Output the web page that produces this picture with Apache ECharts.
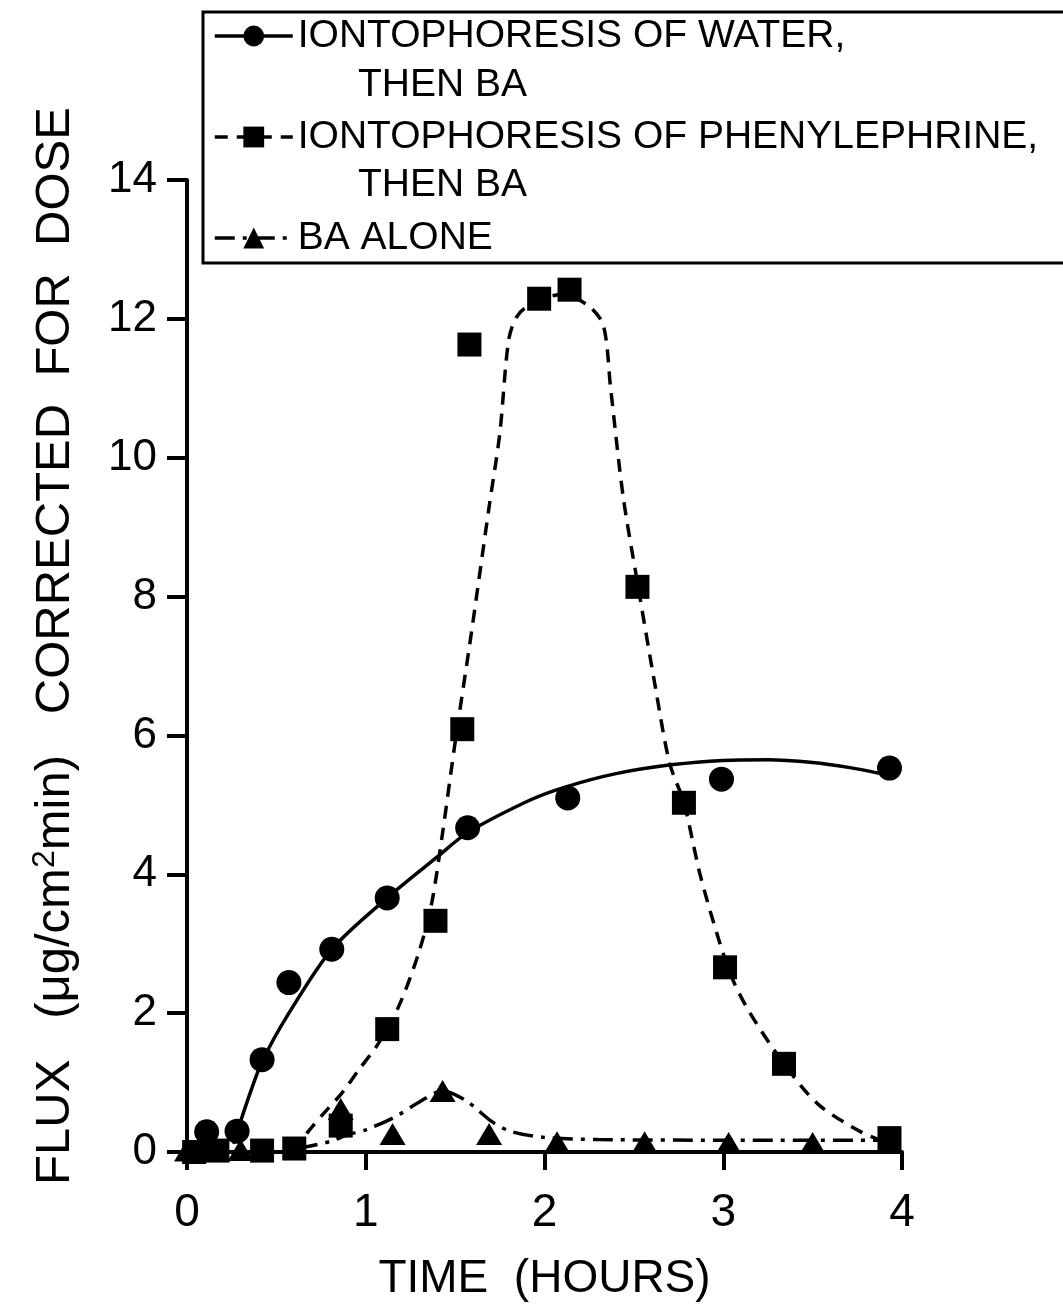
<!DOCTYPE html>
<html>
<head>
<meta charset="utf-8">
<script src="https://cdn.jsdelivr.net/npm/echarts@6/dist/echarts.min.js"></script>
<style>html,body{margin:0;padding:0;background:#fff;}#chart{width:1063px;height:1307px;}</style>
</head>
<body>
<div id="chart"></div>
<script>
// ---- data ----
const xTicks = [0, 1, 2, 3, 4];
const yTicks = [0, 2, 4, 6, 8, 10, 12, 14];

const waterName = 'IONTOPHORESIS OF WATER,';
const phenylName = 'IONTOPHORESIS OF PHENYLEPHRINE,';
const baName = 'BA ALONE';

// measured points [hours, flux]
const waterPoints = [[0.11,0.29],[0.28,0.30],[0.42,1.33],[0.57,2.44],[0.81,2.92],[1.12,3.66],[1.57,4.67],[2.13,5.10],[2.99,5.37],[3.93,5.53]];
const phenylPoints = [[0.04,0.0],[0.17,0.02],[0.42,0.02],[0.60,0.05],[0.86,0.38],[1.12,1.77],[1.39,3.33],[1.54,6.09],[1.58,11.63],[1.97,12.29],[2.14,12.42],[2.52,8.14],[2.78,5.03],[3.01,2.66],[3.34,1.27],[3.93,0.20]];
const baPoints = [[0.0,0.02],[0.17,0.02],[0.30,0.03],[0.86,0.62],[1.15,0.26],[1.43,0.88],[1.69,0.26],[2.07,0.14],[2.56,0.14],[3.03,0.13],[3.50,0.13]];

// hand-drawn fitted curves
const waterFit = [[0.26,0.12],[0.34,0.75],[0.42,1.30],[0.57,2.00],[0.81,2.92],[1.12,3.66],[1.40,4.25],[1.57,4.60],[1.92,5.07],[2.12,5.26],[2.40,5.45],[2.72,5.58],[3.00,5.64],[3.25,5.65],[3.50,5.61],[3.70,5.54],[3.88,5.45]];
const phenylFit = [[0.60,0.0],[0.68,0.30],[0.78,0.60],[0.87,0.86],[0.96,1.18],[1.07,1.56],[1.19,2.13],[1.30,2.90],[1.37,3.60],[1.43,4.60],[1.50,5.90],[1.59,7.46],[1.69,9.29],[1.75,10.35],[1.80,11.70],[1.85,12.05],[1.95,12.25],[2.10,12.35],[2.25,12.18],[2.33,11.90],[2.37,11.00],[2.44,9.44],[2.52,8.20],[2.62,6.70],[2.70,5.60],[2.78,5.03],[2.87,4.00],[2.97,3.10],[3.05,2.50],[3.15,2.00],[3.34,1.27],[3.53,0.69],[3.77,0.29],[3.93,0.12]];
const baFit = [[0.62,0.05],[0.80,0.15],[0.90,0.25],[1.00,0.32],[1.16,0.50],[1.30,0.72],[1.43,0.88],[1.56,0.74],[1.71,0.43],[1.82,0.29],[2.00,0.21],[2.30,0.18],[3.00,0.17],[3.92,0.17]];

const FONT = '"Liberation Sans", Arial, sans-serif';

const chart = echarts.init(document.getElementById('chart'), null, {renderer: 'canvas'});

chart.setOption({
  backgroundColor: '#fff',
  animation: false,
  grid: {left: 187, right: 161, top: 180, bottom: 152, containLabel: false},
  xAxis: {
    type: 'value', min: xTicks[0], max: xTicks[xTicks.length - 1], interval: 1,
    name: 'TIME  (HOURS)', nameLocation: 'middle', nameGap: 104,
    nameTextStyle: {fontSize: 46, fontFamily: FONT, color: '#000'},
    axisLine: {lineStyle: {color: '#000', width: 4}},
    axisTick: {show: true, length: 18, lineStyle: {color: '#000', width: 4}},
    axisLabel: {fontSize: 46, fontFamily: FONT, color: '#000', margin: 38},
    splitLine: {show: false}
  },
  yAxis: {
    type: 'value', min: yTicks[0], max: yTicks[yTicks.length - 1], interval: 2,
    name: '{a|FLUX   (μg/cm}{s|2}{a|min)   CORRECTED  FOR  DOSE}',
    nameLocation: 'middle', nameGap: 106, nameRotate: 90,
    nameTextStyle: {
      color: '#000', fontFamily: FONT, padding: [0, 0, 0, 40],
      rich: {
        a: {fontSize: 49, fontFamily: FONT, color: '#000', lineHeight: 52},
        s: {fontSize: 32, fontFamily: FONT, color: '#000', verticalAlign: 'top', lineHeight: 32}
      }
    },
    axisLine: {show: true, lineStyle: {color: '#000', width: 4}},
    axisTick: {show: true, length: 20, lineStyle: {color: '#000', width: 4}},
    axisLabel: {fontSize: 44, fontFamily: FONT, color: '#000', margin: 30},
    splitLine: {show: false}
  },
  legend: {
    orient: 'vertical', left: 203, top: 12,
    padding: [4, 70, 5, 10], itemGap: 61, itemWidth: 78, itemHeight: 26,
    borderColor: '#000', borderWidth: 3, borderRadius: 0,
    selectedMode: false,
    lineStyle: {width: 3.5},
    textStyle: {fontSize: 39, fontFamily: FONT, color: '#000', lineHeight: 40},
    data: [waterName, phenylName, baName]
  },
  graphic: [
    {type: 'text', x: 358, y: 85, style: {text: 'THEN BA', fontSize: 39, fontFamily: FONT, fill: '#000', verticalAlign: 'middle'}},
    {type: 'text', x: 358, y: 185, style: {text: 'THEN BA', fontSize: 39, fontFamily: FONT, fill: '#000', verticalAlign: 'middle'}}
  ],
  series: [
    {name: waterName, type: 'line', data: waterFit, smooth: 0.3, symbol: 'circle', showSymbol: false,
     lineStyle: {color: '#000', width: 3.5, type: 'solid'}, itemStyle: {color: '#000'}, z: 2},
    {name: phenylName, type: 'line', data: phenylFit, smooth: 0.3, symbol: 'rect', showSymbol: false,
     lineStyle: {color: '#000', width: 3.5, type: [13, 9]}, itemStyle: {color: '#000'}, z: 2},
    {name: baName, type: 'line', data: baFit, smooth: 0.3, symbol: 'triangle', showSymbol: false,
     lineStyle: {color: '#000', width: 3.5, type: [20, 8, 4, 8]}, itemStyle: {color: '#000'}, z: 2},
    {name: 'water points', type: 'scatter', data: waterPoints, symbol: 'circle', symbolSize: 25,
     itemStyle: {color: '#000', opacity: 1}, z: 5},
    {name: 'phenylephrine points', type: 'scatter', data: phenylPoints, symbol: 'rect', symbolSize: 24,
     itemStyle: {color: '#000', opacity: 1, borderRadius: 3}, z: 5},
    {name: 'BA points', type: 'scatter', data: baPoints, symbol: 'triangle', symbolSize: [26, 22],
     itemStyle: {color: '#000', opacity: 1}, z: 5}
  ]
});
</script>
</body>
</html>
